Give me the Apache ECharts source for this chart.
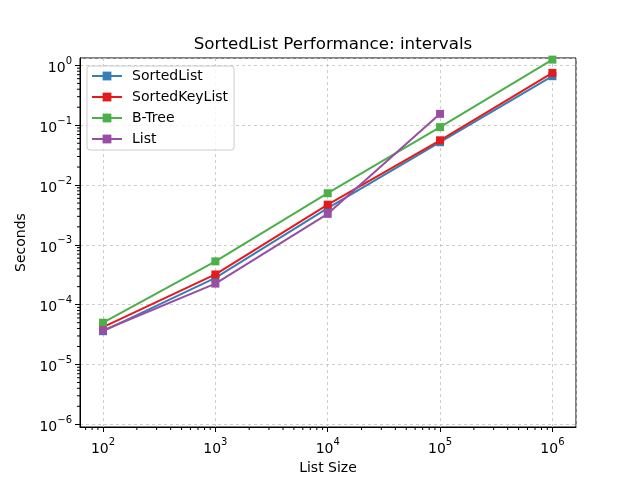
<!DOCTYPE html>
<html>
<head>
<meta charset="utf-8">
<title>intervals</title>
<script src="https://cdn.jsdelivr.net/npm/echarts@6/dist/echarts.min.js"></script>
<style>html,body{margin:0;padding:0;background:#fff}</style>
</head>
<body>
<div id="main" style="width:640px;height:480px;"></div>
<script>
var sizes = [100, 1000, 10000, 100000, 1000000];
var sortedList = [3.6e-5, 2.8e-4, 4.1e-3, 0.052, 0.66];
var sortedKeyList = [4.2e-5, 3.2e-4, 4.7e-3, 0.056, 0.75];
var bTree = [5.0e-5, 5.3e-4, 7.3e-3, 0.093, 1.25];
var list = [3.7e-5, 2.25e-4, 3.3e-3, 0.155, null];
var names = ['SortedList', 'SortedKeyList', 'B-Tree', 'List'];
var colors = ['#377eb8', '#e41a1c', '#4daf4a', '#984ea3'];

var xMin = Math.pow(10, 1.795), xMax = Math.pow(10, 6.21);
var yMin = Math.pow(10, -6.045), yMax = Math.pow(10, 0.124);
var minorSteps = [2, 3, 4, 5, 6, 7, 8, 9];
var xDecades = [10, 100, 1000, 10000, 100000, 1000000];
var yDecades = [1e-7, 1e-6, 1e-5, 1e-4, 1e-3, 1e-2, 1e-1, 1];

var font = 'DejaVu Sans';

function pairs(ys) {
  return sizes.map(function (x, i) { return ys[i] == null ? null : [x, ys[i]]; })
    .filter(function (p) { return p; });
}

function logLabel(v) {
  var e = Math.log10(v);
  if (Math.abs(e - Math.round(e)) > 1e-6) return '';
  e = Math.round(e);
  return '{b|10}{s|' + (e < 0 ? '\u2212' + (-e) : e) + '}';
}
var labelRich = {
  b: {fontSize: 14, fontFamily: font, color: '#000', padding: [6, 0, 0, 0]},
  s: {fontSize: 10, fontFamily: font, color: '#000', padding: [0, 0, 8, 0]}
};

var xMinor = [], yMinor = [];
xDecades.forEach(function (d) {
  minorSteps.forEach(function (m) {
    var v = d * m;
    if (v > xMin && v < xMax) xMinor.push([v, yMin]);
  });
});
yDecades.forEach(function (d) {
  minorSteps.forEach(function (m) {
    var v = d * m;
    if (v > yMin && v < yMax) yMinor.push([xMin, v]);
  });
});

var series = [sortedList, sortedKeyList, bTree, list].map(function (ys, i) {
  return {
    name: names[i],
    type: 'line',
    data: pairs(ys),
    symbol: 'rect',
    symbolSize: 8,
    showSymbol: true,
    color: colors[i],
    lineStyle: {width: 2, color: colors[i]},
    itemStyle: {color: colors[i]},
    animation: false,
    z: 3 + i
  };
});

series.push({
  type: 'custom',
  data: xMinor,
  silent: true,
  clip: false,
  animation: false,
  renderItem: function (params, api) {
    var p = api.coord([api.value(0), api.value(1)]);
    return {type: 'line', shape: {x1: p[0], y1: p[1], x2: p[0], y2: p[1] + 3},
      style: {stroke: '#000', lineWidth: 1}};
  }
});
series.push({
  type: 'custom',
  data: yMinor,
  silent: true,
  clip: false,
  animation: false,
  renderItem: function (params, api) {
    var p = api.coord([api.value(0), api.value(1)]);
    return {type: 'line', shape: {x1: p[0] - 3, y1: p[1], x2: p[0], y2: p[1]},
      style: {stroke: '#000', lineWidth: 1}};
  }
});

var chart = echarts.init(document.getElementById('main'));
chart.setOption({
  animation: false,
  backgroundColor: '#fff',
  textStyle: {fontFamily: font},
  title: {
    text: 'SortedList Performance: intervals',
    left: 328,
    textAlign: 'center',
    top: 31,
    textStyle: {fontSize: 16.7, fontWeight: 'normal', color: '#000', fontFamily: font}
  },
  legend: {
    data: names,
    orient: 'vertical',
    left: 87,
    top: 66,
    padding: [3, 6, 4, 4],
    itemWidth: 30,
    itemHeight: 11,
    itemGap: 7,
    backgroundColor: 'rgba(255,255,255,0.8)',
    borderColor: '#ccc',
    borderWidth: 1,
    borderRadius: 3,
    textStyle: {fontSize: 14, color: '#000', fontFamily: font, padding: [0, 0, 0, 5]}
  },
  grid: {
    left: 80, right: 64, top: 58, bottom: 52,
    show: true, borderColor: '#000', borderWidth: 1
  },
  xAxis: {
    type: 'log',
    logBase: 10,
    min: xMin,
    max: xMax,
    name: 'List Size',
    nameLocation: 'middle',
    nameGap: 34,
    nameTextStyle: {fontSize: 14, color: '#000', fontFamily: font},
    axisLine: {lineStyle: {color: '#000'}},
    axisTick: {show: true, length: 5, lineStyle: {color: '#000'}},
    axisLabel: {formatter: logLabel, rich: labelRich, margin: 9, showMinLabel: false, showMaxLabel: false},
    splitLine: {show: true, lineStyle: {color: '#c0c0c0', type: [3, 3], width: 0.8}},
    minorTick: {show: false}
  },
  yAxis: {
    type: 'log',
    logBase: 10,
    min: yMin,
    max: yMax,
    name: 'Seconds',
    nameLocation: 'middle',
    nameGap: 47,
    nameTextStyle: {fontSize: 14, color: '#000', fontFamily: font},
    axisLine: {lineStyle: {color: '#000'}},
    axisTick: {show: true, length: 5, lineStyle: {color: '#000'}},
    axisLabel: {formatter: logLabel, rich: labelRich, margin: 8, showMinLabel: false, showMaxLabel: false},
    splitLine: {show: true, lineStyle: {color: '#c0c0c0', type: [3, 3], width: 0.8}},
    minorTick: {show: false}
  },
  series: series
});
</script>
</body>
</html>
